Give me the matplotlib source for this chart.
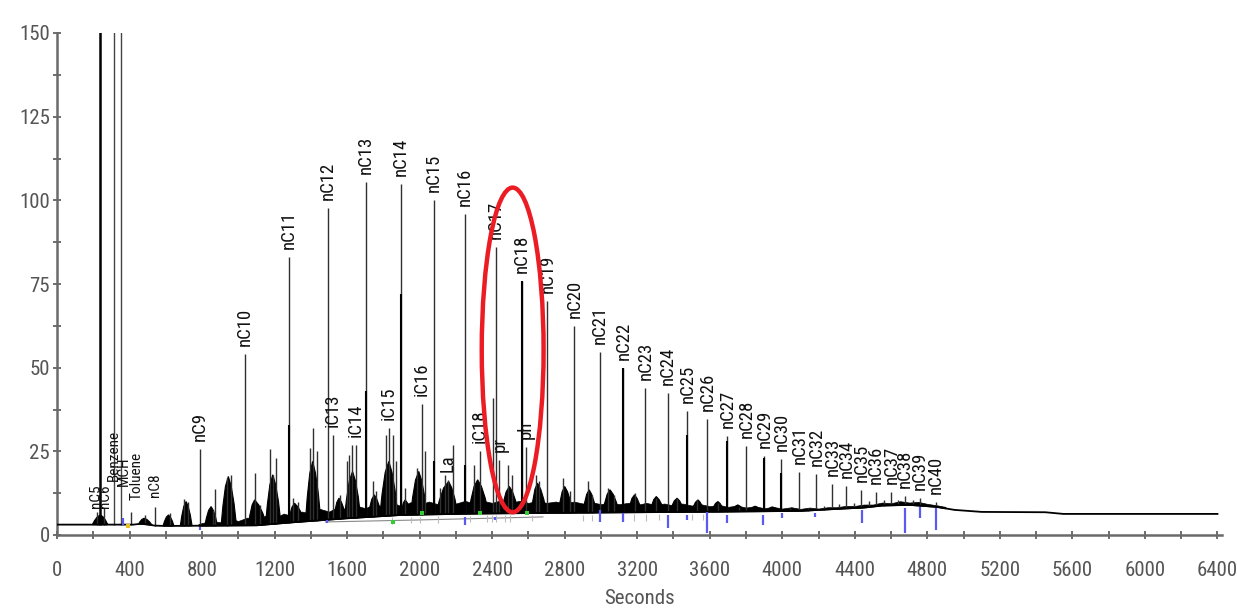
import matplotlib
matplotlib.use("Agg")
import matplotlib.pyplot as plt
import numpy as np
from matplotlib.patches import Ellipse
from matplotlib.ticker import MultipleLocator

# ---------------- data ----------------
# signal baseline (seconds, response)
base_t = [0, 420, 470, 540, 600, 1100, 1300, 1600, 1900, 2300, 2700, 3200, 3700,
          4100, 4300, 4450, 4550, 4700, 4850, 4950, 5100, 5450, 5550, 6400]
base_h = [3.1, 3.1, 3.4, 2.8, 2.7, 2.9, 3.8, 5.0, 6.0, 6.4, 6.6, 6.8, 7.0,
          7.2, 7.8, 8.2, 8.8, 9.0, 8.4, 7.5, 6.9, 6.8, 6.3, 6.3]

# unresolved "grass" on top of the baseline
grass_t = [780, 850, 900, 950, 1000, 1050, 1100, 1150, 1200, 1250, 1300, 1350,
           1400, 1450, 1500, 1550, 1600, 1650, 1700, 1750, 1800, 1850, 1900, 1950,
           2000, 2050, 2100, 2150, 2200, 2250, 2300, 2350, 2400, 2450, 2500, 2550,
           2600, 2650, 2700, 2750, 2800, 2850, 2900, 2950, 3000, 3050, 3100, 3150,
           3200, 3250, 3300, 3350, 3400, 3450, 3500, 3550, 3600, 3650, 3700, 3750,
           3800, 3850, 3900, 3950, 4000, 4050, 4100, 4150, 4200, 4250, 4300, 4350,
           4400, 4450, 4500, 4550, 4600, 4650, 4700, 4750, 4800, 4850, 4900]
grass_h = [3.3, 4.2, 3.8, 4.8, 4.2, 5.2, 4.4, 5.8, 5.0, 6.4, 5.6, 7.0,
           6.4, 7.8, 7.0, 8.4, 7.6, 8.8, 8.0, 9.2, 8.4, 9.6, 8.6, 9.8,
           9.0, 10.0, 9.2, 10.2, 9.4, 10.2, 9.4, 10.2, 9.6, 10.4, 9.6, 10.2,
           9.6, 10.2, 9.6, 10.0, 9.4, 10.0, 9.4, 9.8, 9.2, 9.8, 9.2, 9.6,
           9.0, 9.6, 9.0, 9.4, 8.8, 9.4, 8.8, 9.2, 8.6, 9.0, 8.4, 8.8,
           8.2, 8.6, 8.0, 8.4, 7.9, 8.3, 7.8, 8.2, 7.9, 8.3, 8.3, 8.7,
           8.7, 9.1, 9.1, 9.7, 9.5, 10.1, 9.7, 9.9, 9.3, 8.9, 8.4]

# solvent / light-end peaks that go off scale
solvent_t = [237, 314, 353]
solvent_h = [160, 160, 160]

# n-alkanes
nalk_names = ["nC9", "nC10", "nC11", "nC12", "nC13", "nC14", "nC15", "nC16", "nC17",
              "nC18", "nC19", "nC20", "nC21", "nC22", "nC23", "nC24", "nC25", "nC26",
              "nC27", "nC28", "nC29", "nC30", "nC31", "nC32", "nC33", "nC34", "nC35",
              "nC36", "nC37", "nC38", "nC39", "nC40"]
nalk_t = [788, 1036, 1278, 1493, 1703, 1895, 2077, 2248, 2419, 2562, 2705, 2854,
          2992, 3124, 3245, 3367, 3477, 3587, 3697, 3802, 3901, 3995, 4094, 4188,
          4276, 4353, 4436, 4518, 4601, 4678, 4760, 4849]
nalk_h = [25.7, 54, 83, 97.7, 105.5, 105, 100, 96, 86, 76, 70, 62.4, 54.7, 50, 44,
          42.4, 37, 34.7, 29.6, 26.6, 23.6, 22.7, 18.8, 18.2, 15.2, 14.6, 13.4, 12.8,
          12.8, 11.6, 11, 9.9]
# height of the darker (co-eluting) core of some alkane peaks, 0 = none
nalk_core = [0, 0, 33, 0, 43, 72, 22, 21, 0, 76, 0, 0, 0, 50, 0, 0, 30, 0, 28, 0,
             23, 18.5, 0, 0, 0, 0, 0, 0, 0, 0, 0, 0]

# isoprenoids / iso-alkanes with labels
iso_names = ["iC13", "iC14", "iC15", "iC16", "La", "iC18", "pr", "ph"]
iso_t = [1521, 1647, 1829, 2011, 2155, 2331, 2440, 2584]
iso_h = [30, 27, 32, 39, 16.5, 25, 22.5, 26.3]

# early eluting labels (label bottom height given)
early_names = ["nC5", "nC6", "Benzene", "MCH", "Toluene", "nC8"]
early_t = [215, 262, 314, 367, 441, 540]
early_label_y = [8, 8, 16, 14.5, 10.5, 11.4]
early_peak_t = [220, 259, 410, 485, 540]
early_peak_h = [7, 8, 7, 6, 8.4]

# unlabelled minor peaks
minor_t = [625, 700, 720, 860, 871, 940, 958, 1091, 1120, 1174, 1190, 1207, 1300,
           1330, 1394, 1411, 1433, 1560, 1598, 1610, 1625, 1740, 1760, 1815, 1851,
           1870, 1920, 1985, 2028, 2110, 2140, 2182, 2300, 2402, 2490, 2510, 2640,
           2660, 2790, 2830, 2930, 2950, 3040, 3070, 3185, 3305, 3420, 3530, 3645,
           3760, 4040, 4140, 4230, 4310, 4395, 4480, 4560, 4640, 4720]
minor_h = [6.5, 10.7, 10, 7.5, 13.7, 17, 18, 18.5, 9, 25.7, 18, 23, 11,
           10, 26, 32, 25, 12, 22, 24, 27, 16, 13, 30, 30,
           22, 14, 20, 25, 14, 18, 27, 21, 41, 21, 18, 18,
           16, 17, 13, 16, 12, 14, 12, 12.5, 11, 11, 10.5, 9.5,
           8.5, 8.2, 8.2, 8.6, 9.2, 9.6, 10.2, 10.4, 10.6, 10.4]

# dense unresolved peak clusters: left, apex, right (s) and apex height
clu_l = [195, 450, 585, 680, 815, 905, 1055, 1150, 1275, 1370, 1525, 1585, 1715,
         1780, 1895, 1950, 2090, 2270, 2450, 2615, 2765, 2900, 3010, 3150, 3270,
         3380, 3500, 3610, 3720, 3820, 3915]
clu_p = [240, 480, 615, 712, 850, 945, 1090, 1190, 1310, 1410, 1555, 1630, 1750,
         1830, 1920, 1995, 2160, 2320, 2495, 2650, 2800, 2935, 3050, 3185, 3305,
         3420, 3535, 3645, 3755, 3850, 3945]
clu_r = [280, 525, 645, 745, 885, 990, 1155, 1235, 1365, 1455, 1595, 1675, 1790,
         1880, 1955, 2040, 2210, 2380, 2545, 2700, 2845, 2975, 3100, 3225, 3350,
         3460, 3570, 3680, 3790, 3885, 3980]
clu_h = [6, 5, 6, 10, 8.5, 17.5, 10.5, 18, 9.5, 22, 11, 19, 12,
         22, 10.5, 19, 16, 16.5, 14.5, 15.5, 14.5, 13.5, 13.5, 12, 11.5,
         11, 10.5, 10, 9, 8.6, 8.4]

# integration marks under the baseline
blue_t = [364, 788, 1488, 2248, 2413, 2992, 3124, 3367, 3477, 3587, 3697, 3896,
          3999, 4181, 4440, 4676, 4760, 4849]
blue_top = [5, 2.4, 4.5, 5.4, 5.5, 7.5, 6.6, 6.0, 6.0, 6.9, 6.0, 6.0, 6.6, 6.6,
            7.5, 8.1, 8.4, 8.1]
blue_bot = [3, 1.5, 3.5, 3.0, 4.5, 3.9, 3.9, 2.1, 4.5, 0.6, 3.6, 3.0, 5.1, 5.4,
            3.6, 0.6, 5.1, 1.5]
grey_t = [1850, 1950, 2000, 2100, 2280, 2370, 2400, 2420, 2470, 2500, 2620, 2900,
          2950, 3120, 3180, 3250, 3320, 3500, 3560]
green_t = [1851, 2011, 2331, 2590]
green_h = [4.0, 6.6, 6.6, 6.5]
int_base_t = [1480, 2000, 2680]
int_base_h = [3.9, 4.5, 5.4]

# highlighted region
ell_center = (2513, 55.3)
ell_w, ell_h = 341, 97

x_major = 400
y_major = 25

# ---------------- figure ----------------
W, H = 1237, 615
fig = plt.figure(figsize=(W / 100, H / 100), dpi=100)
ax = fig.add_axes([57 / W, (H - 535) / H, (1222 - 57) / W, (535 - 33) / H])

FONT = ["Roboto Condensed", "Liberation Sans Narrow", "Liberation Sans", "DejaVu Sans"]


def base_at(t):
    return np.interp(np.asarray(t, dtype=float), base_t, base_h)


PEAK = "#303030"

# grass floor
ax.fill_between(grass_t, base_at(grass_t), grass_h, color="black", lw=0.5,
                zorder=2)

# clusters
for l, p, r, h in zip(clu_l, clu_p, clu_r, clu_h):
    w1, w2 = p - l, r - p
    xs = [l, l + 0.25 * w1, l + 0.6 * w1, p, p + 0.35 * w2, p + 0.7 * w2, r]
    bl, bp, br = base_at([l, p, r])
    ys = [bl, bl + 0.4 * (h - bl), bl + 0.8 * (h - bl), h, bp + 0.8 * (h - bp),
          br + 0.45 * (h - br), br]
    ax.fill(xs, ys, color="black", lw=0.8, ec="black", zorder=2)

# minor peaks
ax.vlines(minor_t, base_at(minor_t), minor_h, color=PEAK, lw=1.0, zorder=3)
ax.vlines(early_peak_t, base_at(early_peak_t), early_peak_h, color=PEAK, lw=1.0,
          zorder=3)
ax.vlines(iso_t, base_at(iso_t), iso_h, color=PEAK, lw=1.0, zorder=3)

# n-alkanes
ax.vlines(nalk_t, base_at(nalk_t), nalk_h, color=PEAK, lw=1.0, zorder=3)
core_t = [t for t, c in zip(nalk_t, nalk_core) if c > 0]
core_h = [c for c in nalk_core if c > 0]
ax.vlines(core_t, base_at(core_t), core_h, color="black", lw=1.5, zorder=4)

# solvent peaks
ax.vlines(solvent_t[0], base_at(solvent_t[0]), solvent_h[0], color="black", lw=1.8,
          zorder=4)
ax.vlines(solvent_t[1:], base_at(solvent_t[1:]), solvent_h[1:], color="#444444",
          lw=1.0, zorder=4)

# baseline
ax.plot(base_t, base_h, color="black", lw=1.3, zorder=5, solid_joinstyle="miter")
ax.plot(int_base_t, int_base_h, color="#888888", lw=0.8, zorder=1)

# integration marks
ax.vlines(grey_t, [b - 2.5 for b in base_at(grey_t)], base_at(grey_t) - 0.6,
          color="#bbbbbb", lw=0.8, zorder=1)
ax.vlines(blue_t, blue_bot, blue_top, color="#5a5af0", lw=1.6, zorder=6)
ax.plot(green_t, green_h, "s", color="#33cc33", ms=2.2, mew=0, zorder=6)
ax.plot([391], [2.8], "s", color="#e8c020", ms=2.5, mew=0, zorder=6)

# labels
LBL = dict(rotation=90, ha="center", va="bottom", fontsize=13.5, family=FONT,
           color="#111111", zorder=7)
for name, t, h in zip(nalk_names, nalk_t, nalk_h):
    ax.text(t, h + 2.4, name, **LBL)
for name, t, h in zip(iso_names, iso_t, iso_h):
    ax.text(t, h + 2.4, name, **LBL)
LBL_EARLY = dict(LBL, fontsize=11)
for name, t, y in zip(early_names, early_t, early_label_y):
    ax.text(t, y, name, **LBL_EARLY)

# red ellipse
ax.add_patch(Ellipse(ell_center, ell_w, ell_h, fill=False, ec="#ec1c24", lw=3.2,
                     zorder=9, clip_on=False))

# axes styling
ax.set_xlim(0, 6425)
ax.set_ylim(0, 150)
for s in ["top", "right"]:
    ax.spines[s].set_visible(False)
for s in ["left", "bottom"]:
    ax.spines[s].set_color("#6a6a6a")
    ax.spines[s].set_linewidth(1.8)
ax.spines["left"].set_bounds(0, 150)

ax.xaxis.set_major_locator(MultipleLocator(x_major))
ax.xaxis.set_minor_locator(MultipleLocator(x_major / 2))
ax.yaxis.set_major_locator(MultipleLocator(y_major))
ax.yaxis.set_minor_locator(MultipleLocator(y_major / 2))
ax.tick_params(which="both", direction="inout", length=6, width=1.2, color="#555555")
ax.tick_params(axis="x", which="major", pad=16)
ax.tick_params(axis="y", which="major", pad=2)
for lab in ax.get_xticklabels() + ax.get_yticklabels():
    lab.set_family(FONT)
    lab.set_fontsize(15)
    lab.set_color("#555555")
ax.set_xlabel("Seconds", family=FONT, fontsize=15, color="#555555", labelpad=6)

fig.savefig("out.png", dpi=100, facecolor="white")
